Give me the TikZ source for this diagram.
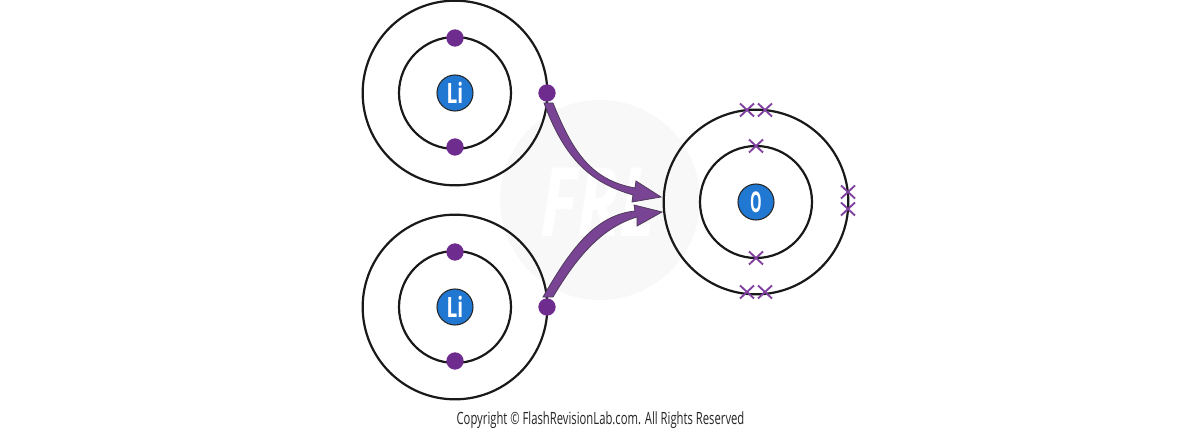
\documentclass[tikz,border=0pt]{standalone}
\usepackage{fontspec}
\setmainfont{Open Sans}
\definecolor{ecol}{HTML}{6F2C8F}
\definecolor{xcol}{HTML}{8040A0}
\definecolor{arrowfill}{HTML}{7A4494}
\definecolor{arrowedge}{HTML}{4F3A5C}
\definecolor{nuc}{HTML}{2178D2}
\definecolor{wm}{HTML}{F8F8F8}
\tikzset{
  x=0.75pt,y=-0.75pt,
  innershell/.style={circle,draw=black!90,line width=1.65pt,minimum size=84pt,inner sep=0pt},
  outershell/.style={circle,draw=black!90,line width=1.65pt,minimum size=138.5pt,inner sep=0pt},
  nucleus/.style={circle,draw=black!85,line width=0.8pt,fill=nuc,minimum size=27pt,inner sep=0pt,text=white,font=\fontsize{21}{21}\selectfont\bfseries},
  electron/.style={circle,fill=ecol,minimum size=13pt,inner sep=0pt},
  crossmark/.style={draw=xcol,line width=1.4pt},
  arrowshape/.style={fill=arrowfill,draw=arrowedge,line width=0.6pt,line join=miter},
}
\newcommand{\xmark}[1]{\draw[crossmark] ([shift={(-7,-6.5)}]#1) -- ([shift={(7,6.5)}]#1) ([shift={(-7,6.5)}]#1) -- ([shift={(7,-6.5)}]#1);}
\begin{document}
\begin{tikzpicture}
\useasboundingbox (0,0) rectangle (1200,431);
\fill[white] (0,0) rectangle (1200,431);
% watermark
\node[circle,fill=wm,minimum size=150pt,inner sep=0pt] (wmark) at (600,200) {};
\node[text=white,font=\fontsize{72}{72}\selectfont\bfseries\itshape] (wmtext) at (598,202) {\scalebox{0.72}[1]{FRL}};
% shells
\node[outershell] (outerA) at (455,93) {};
\node[innershell] (innerA) at (455,93) {};
\node[outershell] (outerB) at (455,307) {};
\node[innershell] (innerB) at (455,307) {};
\node[outershell] (outerO) at (756,202) {};
\node[innershell] (innerO) at (756,202) {};
% nuclei
\node[nucleus] (liA) at (455,93) {\scalebox{0.68}[1]{Li}};
\node[nucleus] (liB) at (455,307) {\scalebox{0.68}[1]{Li}};
\node[nucleus] (oxy) at (756,202) {\scalebox{0.52}[1.02]{O}};
% electrons
\foreach \n/\p in {a1/{455,38},a2/{455,147},a3/{547,93},b1/{455,252},b2/{455,361},b3/{547,307}}
  \node[electron] (\n) at (\p) {};
% crosses
\foreach \n/\p in {x1/{747,110},x2/{765,110},x3/{756,146},x4/{756,258},x5/{747,292},x6/{765,292},x7/{848,192},x8/{848,209}}{
  \coordinate (\n) at (\p);
  \xmark{\n}
}
% arrows
\coordinate (tA1) at (544,103); \coordinate (tA2) at (553,103);
\coordinate (tipA) at (661,197);
\coordinate (tB1) at (543,297); \coordinate (tB2) at (553,297);
\coordinate (tipB) at (662,212);
\path[arrowshape] (tA2) .. controls (572,150) and (590,180) .. (635,188)
  -- (636,181) -- (tipA) -- (632,202) -- (633,195)
  .. controls (600,185) and (568,169) .. (tA1) -- cycle;
\path[arrowshape] (tB2) .. controls (575,260) and (600,228) .. (637,217)
  -- (637,226) -- (tipB) -- (634,205) -- (635,211)
  .. controls (595,215) and (570,250) .. (tB1) -- cycle;
% copyright
\node[text=black!85,font=\fontsize{11.5}{11.5}\selectfont] (copy) at (600.5,420) {\scalebox{0.735}[1.1]{Copyright © FlashRevisionLab.com. All Rights Reserved}};
\end{tikzpicture}
\end{document}
